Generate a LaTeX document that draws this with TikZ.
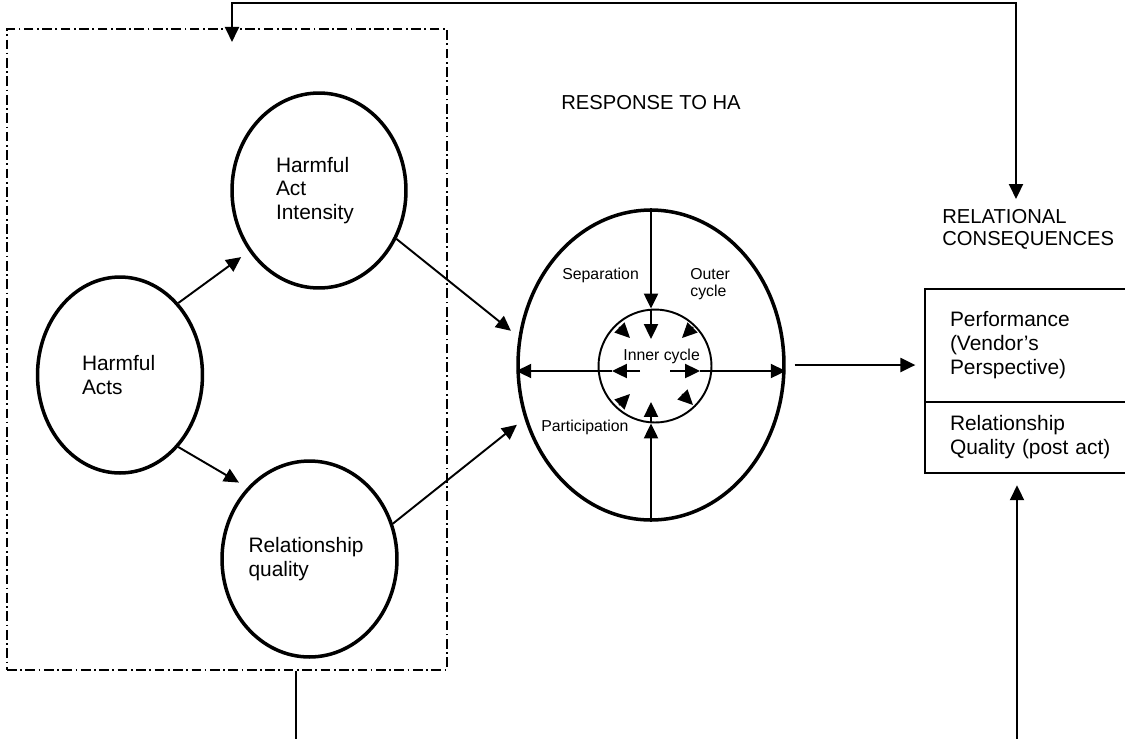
\documentclass[tikz,border=0pt]{standalone}
\usepackage{fontspec}
\setmainfont{Liberation Sans}
\usetikzlibrary{positioning}
\usetikzlibrary{shapes.geometric}
\usetikzlibrary{arrows.meta}

\begin{document}
\begin{tikzpicture}[
        x=0.02cm, y=-0.02cm,
        construct/.style={ellipse, draw=black, line width=2pt, inner sep=0pt, align=left, font=\fontsize{11.9pt}{13.6pt}\selectfont},
        cycleout/.style={ellipse, draw=black, line width=2pt, minimum width=5.32cm, minimum height=6.2cm},
        cyclein/.style={circle, draw=black, line width=1.1pt, minimum size=2.26cm},
        outcome/.style={rectangle, draw=black, line width=1.1pt, anchor=north west, outer sep=0pt, minimum width=4.6cm, text width=3.6cm, align=left, inner sep=0pt, font=\fontsize{11.9pt}{13.6pt}\selectfont},
        groupbox/.style={rectangle, draw=black, line width=1.3pt, dash pattern=on 5.5pt off 2pt on 1pt off 2pt, minimum width=8.8cm, minimum height=12.82cm},
        link/.style={-{Triangle[length=8.5pt,width=8pt]}, line width=1.1pt},
        headonly/.style={-{Triangle[length=8.5pt,width=8pt]}, line width=0.8pt},
        feedback/.style={{Triangle[length=8.5pt,width=8pt]}-{Triangle[length=8.5pt,width=8pt]}, line width=1.1pt},
        caption/.style={inner sep=0pt, align=left, font=\fontsize{11.5pt}{12.6pt}\selectfont},
        cyclelabel/.style={inner sep=0pt, align=left, anchor=west, font=\fontsize{9pt}{9.8pt}\selectfont}
    ]
    \useasboundingbox (0,0) rectangle (1125,738);

    % Harmful act group
    \node[groupbox] (group) at (227,349.5) {};
    \node[construct, minimum width=3.3cm, minimum height=3.92cm, text width=1.52cm] (acts) at (120,375) {Harmful\\Acts};
    \node[construct, minimum width=3.48cm, minimum height=3.9cm, text width=1.72cm] (intensity) at (319,190.5) {Harmful\\Act\\Intensity};
    \node[construct, minimum width=3.5cm, minimum height=3.92cm, text width=2.44cm] (rq) at (309.5,559) {Relationship\\quality};

    % Response to HA
    \node[caption] (resphead) at (651,103) {RESPONSE TO HA};
    \node[cycleout] (resp) at (651,365) {};
    \node[cyclein] (inner) at (655,366) {};
    \node[cyclelabel] (innerlbl) at (623,356) {Inner cycle};
    \node[cyclelabel] (separation) at (562,275) {Separation};
    \node[cyclelabel] (outer) at (690,284.5) {Outer\\cycle};
    \node[cyclelabel] (participation) at (541,427) {Participation};

    % Relational consequences
    \node[caption, anchor=west] (rel) at (942,229) {RELATIONAL\\CONSEQUENCES};
    \node[outcome, minimum height=2.26cm] (perf) at (925,289) {Performance\\(Vendor’s\\Perspective)};
    \node[outcome, minimum height=1.42cm] (qual) at (perf.south west) {Relationship\\Quality (post act)};

    % Arrows
    \draw[link, shorten >=5.5pt] (acts.51) -- (intensity.221);
    \draw[link, shorten >=5.5pt] (acts.309) -- (rq.131);
    \draw[link, shorten >=5.5pt] (intensity.328) -- (resp.168);
    \draw[link, shorten >=5.5pt] (rq.23) -- (resp.203);
    \draw[link, shorten <=5pt, shorten >=5.5pt] (resp.east) -- (resp.east -| perf.west);

    % Cycle arrows
    \draw[link] ([shift={(-15,5)}]inner.center) -- ([shift={(-43,5)}]inner.center);
    \draw[link] ([shift={(-43,5)}]inner.center) -- ([shift={(0,6)}]resp.west);
    \draw[link] ([shift={(15,5)}]inner.center) -- ([shift={(45,5)}]inner.center);
    \draw[link] ([shift={(45,5)}]inner.center) -- ([shift={(0,6)}]resp.east);
    \draw[link] (resp.north) -- ([shift={(-4,0)}]inner.north);
    \draw[link] ([shift={(-4,0)}]inner.north) -- ([shift={(-4,-27)}]inner.center);
    \draw[link] (resp.south) -- ([shift={(-4,0)}]inner.south);
    \draw[link] ([shift={(-4,0)}]inner.south) -- ([shift={(-4,36)}]inner.center);
    \draw[headonly] ([shift={(-36,-39)}]inner.center) -- ([shift={(-25,-28)}]inner.center);
    \draw[headonly] ([shift={(38,-39)}]inner.center) -- ([shift={(27,-28)}]inner.center);
    \draw[headonly] ([shift={(-36,39)}]inner.center) -- ([shift={(-25,28)}]inner.center);
    \draw[headonly] ([shift={(27,28)}]inner.center) -- ([shift={(38,39)}]inner.center);

    % Feedback
    \coordinate (fbcorner) at (1016,3);
    \coordinate (fbleft) at (296,745);
    \coordinate (fbright) at (1017,745);
    \draw[feedback, shorten >=5.5pt] ([shift={(5,14)}]group.north) |- (fbcorner) -- (fbcorner |- rel.north);
    \draw[line width=1.1pt] (fbleft |- group.south) -- (fbleft);
    \draw[link, shorten >=7pt] (fbright) -- (fbright |- qual.south);

\end{tikzpicture}
\end{document}
